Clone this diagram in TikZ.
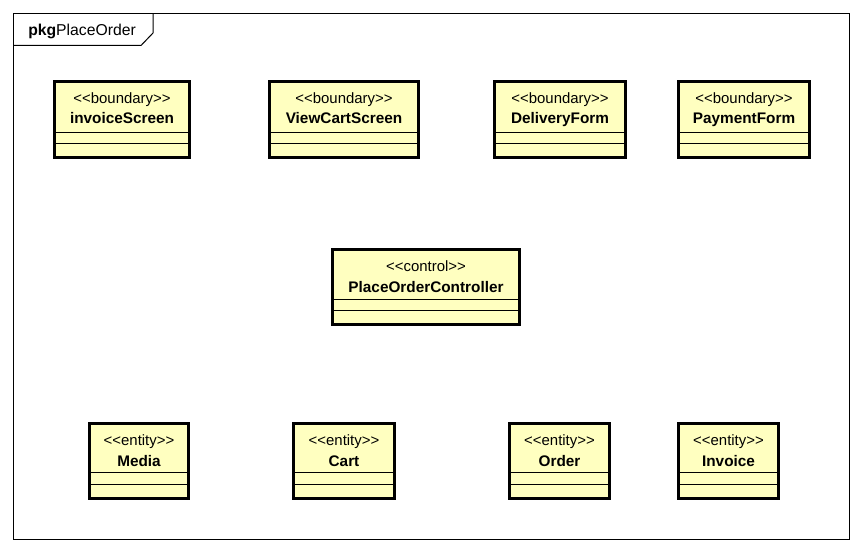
\documentclass[tikz,border=0pt]{standalone}
\usepackage{fontspec}
\setmainfont{Liberation Sans}
\usetikzlibrary{fit}
\definecolor{clsfill}{HTML}{FFFFC0}
\tikzset{
  px/.style={x=0.75pt,y=-0.75pt},
  frameline/.style={draw=black,line width=0.75pt},
  clsbox/.style={draw=black,fill=clsfill,line width=2.25pt,inner sep=0pt,rectangle},
  sepline/.style={draw=black,line width=0.75pt},
  stereo/.style={font=\fontsize{11.2}{13}\selectfont,anchor=base,inner sep=0pt},
  clsname/.style={font=\fontsize{11.5}{13}\selectfont\bfseries,anchor=base,inner sep=0pt},
  pkglabel/.style={font=\fontsize{11.8}{13}\selectfont,anchor=base west,inner sep=0pt}
}
% #1 name, #2 x1, #3 y1(top), #4 x2, #5 y2(bottom), #6 stereotype, #7 title, #8 sep1 y, #9 sep2 y
\newcommand\umlcls[9]{%
  \node[clsbox,fit={(#2,#3) (#4,#5)}] (#1) {};
  \node[stereo] (#1-st) at ({(#2+#4)/2},{#3+22}) {<{}<#6>{}>};
  \node[clsname] (#1-nm) at ({(#2+#4)/2},{#3+42.5}) {#7};
  \draw[sepline] (#1.west |- 0,#8) -- (#1.east |- 0,#8);
  \draw[sepline] (#1.west |- 0,#9) -- (#1.east |- 0,#9);
}
\begin{document}
\begin{tikzpicture}[px]
\useasboundingbox (0,0) rectangle (862,552);
\fill[white] (0,0) rectangle (862,552);
% package frame
\node[frameline,rectangle,inner sep=0pt,fit={(13.5,13.5) (849,539)}] (pkg) {};
\coordinate (tabA) at (153,13.5);
\coordinate (tabB) at (153,33);
\coordinate (tabC) at (141,45.5);
\coordinate (tabD) at (13.5,45.5);
\draw[frameline] (tabA) -- (tabB) -- (tabC) -- (tabD);
\node[pkglabel] (pkgname) at (28,35.5) {\textbf{pkg}PlaceOrder};
% boundaries
\umlcls{invoiceScreen}{54.5}{81.5}{189.5}{157.5}{boundary}{invoiceScreen}{132.5}{144}
\umlcls{viewCart}{269.5}{81.5}{418.5}{157.5}{boundary}{ViewCartScreen}{132.5}{144}
\umlcls{delivery}{494.5}{81.5}{625.5}{157.5}{boundary}{DeliveryForm}{132.5}{144}
\umlcls{payment}{678.5}{81.5}{809.5}{157.5}{boundary}{PaymentForm}{132.5}{144}
% control
\umlcls{controller}{332.5}{249.5}{519.5}{324.5}{control}{PlaceOrderController}{299.5}{310.5}
% entities
\umlcls{media}{89.5}{423.5}{188.5}{498.5}{entity}{Media}{472.5}{484}
\umlcls{cart}{293.5}{423.5}{394.5}{498.5}{entity}{Cart}{472.5}{484}
\umlcls{order}{509.5}{423.5}{609.5}{498.5}{entity}{Order}{472.5}{484}
\umlcls{invoice}{678.5}{423.5}{778.5}{498.5}{entity}{Invoice}{472.5}{484}
\end{tikzpicture}
\end{document}
